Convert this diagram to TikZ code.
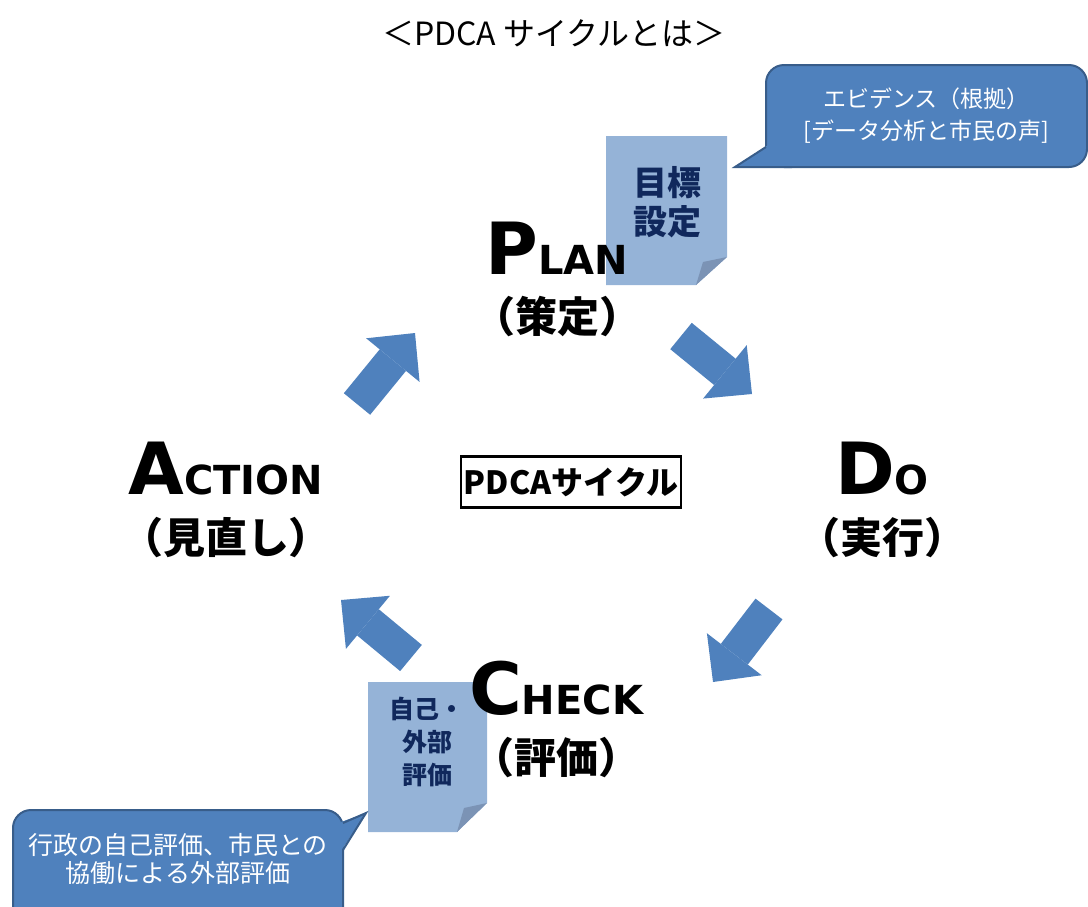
\documentclass[tikz,border=0pt]{standalone}
\usepackage{fontspec}
\setmainfont{Noto Sans CJK JP}
\newfontfamily\stagefont{DejaVu Sans}
\usetikzlibrary{arrows.meta,backgrounds,calc,positioning}
\definecolor{cycleblue}{HTML}{4F81BD}
\definecolor{calloutline}{HTML}{385D8A}
\definecolor{paperblue}{HTML}{95B3D7}
\definecolor{paperfold}{HTML}{7B93B5}
\definecolor{papertext}{HTML}{10285C}
\newcommand{\stagelabel}[2]{{\stagefont\bfseries\fontsize{72}{72}\selectfont #1\fontsize{40}{40}\selectfont #2}}

\begin{document}
\begin{tikzpicture}[x=1pt,y=-1pt,
  stage/.style={inner sep=0pt,anchor=base},
  stagesub/.style={inner sep=0pt,font=\bfseries\fontsize{42}{42}\selectfont},
  cyclearrow/.style={draw=cycleblue,line width=34pt,
    -{Triangle[width=69pt 0 0,length=35pt 0 0,line width=0pt 0]}},
  papernote/.style={inner sep=0pt,align=center,text=papertext},
  calloutbox/.style={draw=calloutline,fill=cycleblue,line width=2pt,outer sep=0pt,
    rounded corners=18pt,text=white,align=center,
    font=\fontsize{23}{32}\selectfont}]
  \path[use as bounding box] (0,0) rectangle (1088,906);
  \clip (0,0) rectangle (1088,906);

  \node[font=\fontsize{32}{32}\selectfont] (title) at (554,33) {＜PDCA サイクルとは＞};

  % stages
  \node[stage] (plan) at (557,274) {\stagelabel{P}{LAN}};
  \node[stagesub,below=22pt of plan] (plansub) {（策定）};
  \node[stage] (do) at (882,494) {\stagelabel{D}{O}};
  \node[stagesub,below=22pt of do] (dosub) {（実行）};
  \node[stage] (check) at (556,714) {\stagelabel{C}{HECK}};
  \node[stagesub,below=22pt of check] (checksub) {（評価）};
  \node[stage] (action) at (226,494) {\stagelabel{A}{CTION}};
  \node[stagesub,below=22pt of action] (actionsub) {（見直し）};

  \node[draw,line width=2.5pt,inner xsep=3pt,inner ysep=11pt,
    font=\bfseries\fontsize{32}{32}\selectfont] (pdca) at (571,482) {PDCAサイクル};

  % cycle arrows
  \coordinate (p2d-tail) at (681,336);
  \coordinate (p2d-tip) at (752,394);
  \coordinate (d2c-tail) at (769,609);
  \coordinate (d2c-tip) at (713,682);
  \coordinate (c2a-tail) at (411,658);
  \coordinate (c2a-tip) at (341,600);
  \coordinate (a2p-tail) at (357,404);
  \coordinate (a2p-tip) at (415,333);
  \draw[cyclearrow] (p2d-tail) -- (p2d-tip);
  \draw[cyclearrow] (d2c-tail) -- (d2c-tip);
  \draw[cyclearrow] (c2a-tail) -- (c2a-tip);
  \draw[cyclearrow] (a2p-tail) -- (a2p-tip);

  % notes
  \node[papernote,font=\bfseries\fontsize{34}{39}\selectfont] (goal) at (667,202) {目標\\設定};
  \node[papernote,font=\bfseries\fontsize{25}{33}\selectfont] (eval) at (427,742) {自己・\\外部\\評価};
  \begin{scope}[on background layer]
    \fill[paperblue] (606,136) -- (727,136) -- (727,257) -- (696,285) -- (606,285) -- cycle;
    \fill[paperfold] (727,257) -- (696,285) -- (703,262) -- cycle;
    \fill[paperblue] (368,682) -- (487,682) -- (487,803) -- (457,832) -- (368,832) -- cycle;
    \fill[paperfold] (487,803) -- (457,832) -- (464,808) -- cycle;
  \end{scope}

  % callouts
  \node[calloutbox,minimum width=321pt,minimum height=102pt] (evid) at (926.5,116)
    {エビデンス（根拠）\\{[}データ分析と市民の声{]}};
  \coordinate (evidtip) at (735,167);
  \fill[cycleblue] ($(evid.south west)+(2,-22)$) -- (evidtip) -- ($(evid.south west)+(26,-1)$) -- cycle;
  \draw[calloutline,line width=2pt] ($(evid.south west)+(0,-20)$) -- (evidtip) -- ($(evid.south west)+(26,0)$);

  \node[calloutbox,minimum width=330pt,minimum height=140pt] (admin) at (178,880) {};
  \node[text=white,align=center,font=\fontsize{25}{28}\selectfont] (admintext) at (178,859)
    {行政の自己評価、市民との\\協働による外部評価};
  \coordinate (admintip) at (366,813);
  \fill[cycleblue] ($(admin.north east)+(-2,12)$) -- (admintip) -- ($(admin.north east)+(-2,41)$) -- cycle;
  \draw[calloutline,line width=2pt] ($(admin.north east)+(0,13)$) -- (admintip) -- ($(admin.north east)+(0,40)$);
\end{tikzpicture}
\end{document}
